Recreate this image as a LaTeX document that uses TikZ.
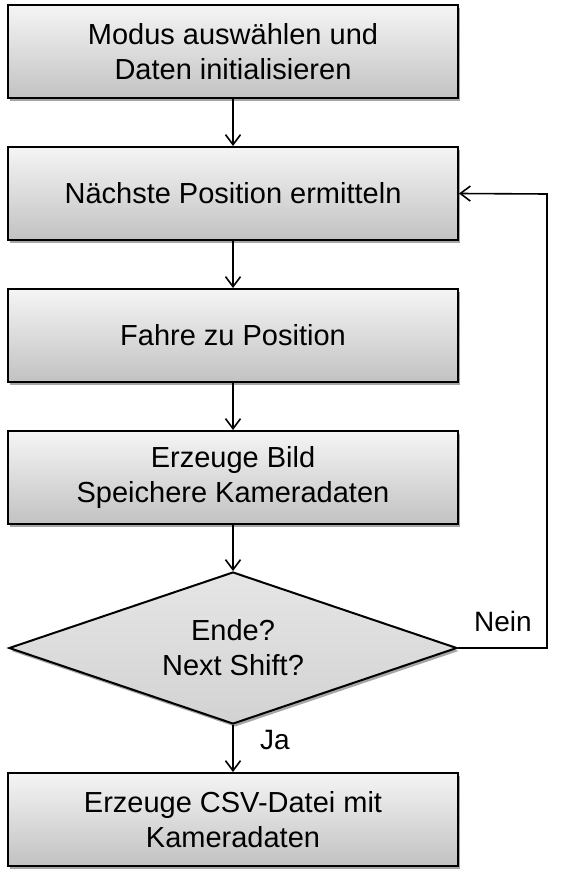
\documentclass[tikz,border=0pt]{standalone}
\usepackage{fontspec}
\setmainfont{Liberation Sans}
\usetikzlibrary{shapes.geometric,arrows.meta,shadows}
\begin{document}
\begin{tikzpicture}[x=1pt,y=-1pt,
  procbox/.style={draw=black,line width=2pt,rectangle,minimum width=450pt,minimum height=93pt,
    inner sep=0pt,align=center,top color=gray!8,bottom color=gray!48,
    drop shadow={shadow xshift=2pt,shadow yshift=-3pt,opacity=0.35,fill=black}},
  decbox/.style={draw=black,line width=2pt,diamond,minimum width=448pt,minimum height=152pt,
    aspect=2.95,inner sep=0pt,align=center,top color=gray!20,bottom color=gray!35,
    drop shadow={shadow xshift=2pt,shadow yshift=-3pt,opacity=0.35,fill=black}},
  txt/.style={font=\fontsize{29}{35}\selectfont},
  conn/.style={line width=1.6pt,-{Straight Barb[length=10pt,width=15pt,line width=1.6pt]}},
  lbl/.style={font=\fontsize{28}{32}\selectfont}
]
\useasboundingbox (0,0) rectangle (583,882);
\node[procbox,txt] (b1) at (233,52) {Modus auswählen und\\Daten initialisieren};
\node[procbox,txt] (b2) at (233,193.5) {Nächste Position ermitteln};
\node[procbox,txt] (b3) at (233,335.5) {Fahre zu Position};
\node[procbox,txt] (b4) at (233,477.5) {Erzeuge Bild\\Speichere Kameradaten};
\node[decbox,txt] (d) at (233,648) {Ende?\\Next Shift?};
\node[procbox,txt] (b6) at (233,819.5) {Erzeuge CSV-Datei mit\\Kameradaten};
\coordinate (c1) at (547,648);
\coordinate (c2) at (547,194);
\draw[conn] (b1) -- (b2);
\draw[conn] (b2) -- (b3);
\draw[conn] (b3) -- (b4);
\draw[conn] (b4) -- (d);
\draw[conn] (d) -- (b6);
\draw[conn] (d.east) -- (c1) -- (c2) -- (b2.east);
\node[lbl] (nein) at (503,621) {Nein};
\node[lbl] (ja) at (275,740) {Ja};
\end{tikzpicture}
\end{document}
